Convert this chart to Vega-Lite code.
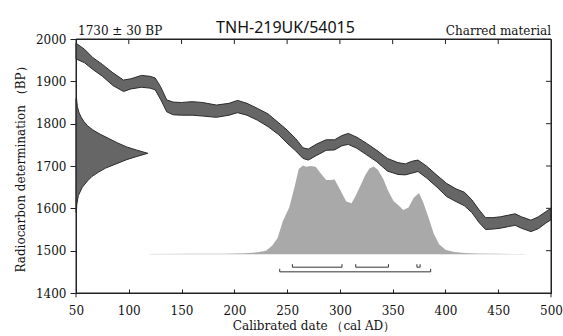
{
  "$schema": "https://vega.github.io/schema/vega-lite/v6.json",
  "autosize": "none",
  "width": 475,
  "height": 254,
  "padding": {"left": 76, "top": 39, "right": 12, "bottom": 43},
  "background": "white",
  "config": {
    "view": {"stroke": "#222222", "strokeWidth": 1},
    "axis": {"grid": false, "domain": true, "ticks": true, "domainColor": "#222222", "tickColor": "#222222", "domainWidth": 1, "tickWidth": 1, "labelColor": "#111111", "titleColor": "#111111", "labelFont": "DejaVu Serif", "titleFont": "DejaVu Serif", "labelFontSize": 12, "titleFontSize": 12, "titleFontWeight": "normal", "labelFlush": false, "labelOverlap": false}
  },
  "title": {"text": "TNH-219UK/54015", "font": "Noto Sans", "fontSize": 16, "fontWeight": "normal", "color": "#111111", "anchor": "middle", "frame": "group", "dx": -28, "offset": -11},
  "datasets": {
    "curve": [
      {"year": 50, "lo": 1953, "hi": 1990},
      {"year": 58, "lo": 1944, "hi": 1976},
      {"year": 66, "lo": 1928, "hi": 1956},
      {"year": 75, "lo": 1912, "hi": 1940},
      {"year": 85, "lo": 1890, "hi": 1920},
      {"year": 95, "lo": 1876, "hi": 1903},
      {"year": 102, "lo": 1882, "hi": 1906},
      {"year": 112, "lo": 1886, "hi": 1914},
      {"year": 120, "lo": 1884, "hi": 1912},
      {"year": 125, "lo": 1880, "hi": 1908},
      {"year": 130, "lo": 1858, "hi": 1888},
      {"year": 136, "lo": 1828, "hi": 1856},
      {"year": 142, "lo": 1821, "hi": 1851},
      {"year": 150, "lo": 1820, "hi": 1850},
      {"year": 160, "lo": 1820, "hi": 1852},
      {"year": 170, "lo": 1818, "hi": 1850},
      {"year": 183, "lo": 1815, "hi": 1844},
      {"year": 195, "lo": 1820, "hi": 1848},
      {"year": 203, "lo": 1826, "hi": 1855},
      {"year": 212, "lo": 1820, "hi": 1848},
      {"year": 222, "lo": 1808, "hi": 1836},
      {"year": 232, "lo": 1793, "hi": 1823},
      {"year": 242, "lo": 1774, "hi": 1802},
      {"year": 250, "lo": 1754, "hi": 1785},
      {"year": 258, "lo": 1736, "hi": 1765},
      {"year": 265, "lo": 1718, "hi": 1743},
      {"year": 270, "lo": 1714, "hi": 1740},
      {"year": 278, "lo": 1725, "hi": 1752},
      {"year": 287, "lo": 1737, "hi": 1762},
      {"year": 295, "lo": 1738, "hi": 1762},
      {"year": 302, "lo": 1748, "hi": 1772},
      {"year": 308, "lo": 1751, "hi": 1777},
      {"year": 316, "lo": 1742, "hi": 1768},
      {"year": 325, "lo": 1727, "hi": 1754},
      {"year": 335, "lo": 1710, "hi": 1737},
      {"year": 345, "lo": 1688, "hi": 1718},
      {"year": 355, "lo": 1680, "hi": 1708},
      {"year": 362, "lo": 1679, "hi": 1705},
      {"year": 368, "lo": 1683, "hi": 1711},
      {"year": 374, "lo": 1687, "hi": 1714},
      {"year": 382, "lo": 1672, "hi": 1700},
      {"year": 392, "lo": 1650, "hi": 1678},
      {"year": 401, "lo": 1628, "hi": 1659},
      {"year": 410, "lo": 1616, "hi": 1646},
      {"year": 418, "lo": 1606, "hi": 1638},
      {"year": 425, "lo": 1590, "hi": 1620},
      {"year": 432, "lo": 1566, "hi": 1596},
      {"year": 438, "lo": 1550, "hi": 1578},
      {"year": 445, "lo": 1551, "hi": 1578},
      {"year": 452, "lo": 1553, "hi": 1580},
      {"year": 460, "lo": 1557, "hi": 1584},
      {"year": 466, "lo": 1560, "hi": 1587},
      {"year": 472, "lo": 1553, "hi": 1580},
      {"year": 481, "lo": 1545, "hi": 1572},
      {"year": 488, "lo": 1552, "hi": 1580},
      {"year": 495, "lo": 1565, "hi": 1592},
      {"year": 500, "lo": 1573, "hi": 1600}
    ],
    "rcdate": [
      {"bp": 1590, "year": 50.3},
      {"bp": 1610, "year": 50.8},
      {"bp": 1630, "year": 52.2},
      {"bp": 1650, "year": 56},
      {"bp": 1665, "year": 61},
      {"bp": 1675, "year": 65},
      {"bp": 1685, "year": 71},
      {"bp": 1695, "year": 78},
      {"bp": 1705, "year": 88},
      {"bp": 1715, "year": 98},
      {"bp": 1722, "year": 107},
      {"bp": 1730, "year": 118},
      {"bp": 1738, "year": 107},
      {"bp": 1745, "year": 98},
      {"bp": 1755, "year": 89},
      {"bp": 1765, "year": 81},
      {"bp": 1775, "year": 73},
      {"bp": 1785, "year": 66},
      {"bp": 1795, "year": 61},
      {"bp": 1805, "year": 57.5},
      {"bp": 1815, "year": 55},
      {"bp": 1825, "year": 53},
      {"bp": 1840, "year": 51.3},
      {"bp": 1860, "year": 50.5}
    ],
    "caldist": [
      {"year": 120, "bp": 1492.3},
      {"year": 160, "bp": 1492.6},
      {"year": 190, "bp": 1493},
      {"year": 210, "bp": 1494},
      {"year": 222, "bp": 1496},
      {"year": 230, "bp": 1500},
      {"year": 236, "bp": 1512},
      {"year": 241, "bp": 1530},
      {"year": 246, "bp": 1570},
      {"year": 252, "bp": 1602},
      {"year": 257, "bp": 1650},
      {"year": 261, "bp": 1693},
      {"year": 265, "bp": 1701},
      {"year": 268, "bp": 1698},
      {"year": 272, "bp": 1700},
      {"year": 277, "bp": 1698},
      {"year": 282, "bp": 1682},
      {"year": 287, "bp": 1667},
      {"year": 291, "bp": 1667},
      {"year": 295, "bp": 1668},
      {"year": 300, "bp": 1645},
      {"year": 306, "bp": 1616},
      {"year": 311, "bp": 1612},
      {"year": 315, "bp": 1630},
      {"year": 319, "bp": 1651},
      {"year": 324, "bp": 1678},
      {"year": 328, "bp": 1694},
      {"year": 332, "bp": 1699},
      {"year": 336, "bp": 1691},
      {"year": 341, "bp": 1670},
      {"year": 346, "bp": 1640},
      {"year": 351, "bp": 1617},
      {"year": 356, "bp": 1606},
      {"year": 360, "bp": 1596},
      {"year": 365, "bp": 1602},
      {"year": 370, "bp": 1625},
      {"year": 375, "bp": 1636},
      {"year": 379, "bp": 1614},
      {"year": 384, "bp": 1578},
      {"year": 389, "bp": 1540},
      {"year": 394, "bp": 1515},
      {"year": 400, "bp": 1502},
      {"year": 408, "bp": 1497},
      {"year": 418, "bp": 1494.5},
      {"year": 430, "bp": 1493.2},
      {"year": 450, "bp": 1492.5},
      {"year": 475, "bp": 1492.2}
    ],
    "ranges": [
      {"year": 255, "year2": 302, "bp": 1461, "cap": 1468},
      {"year": 315, "year2": 346, "bp": 1461, "cap": 1468},
      {"year": 373, "year2": 376, "bp": 1461, "cap": 1468},
      {"year": 243, "year2": 386, "bp": 1450, "cap": 1457}
    ],
    "hsegs": [
      {"xa": 50, "xb": 500, "y": 1400},
      {"xa": 50, "xb": 500, "y": 2000},
      {"xa": 495.3, "xb": 500, "y": 1500},
      {"xa": 495.3, "xb": 500, "y": 1600},
      {"xa": 495.3, "xb": 500, "y": 1700},
      {"xa": 495.3, "xb": 500, "y": 1800},
      {"xa": 495.3, "xb": 500, "y": 1900}
    ],
    "vsegs": [
      {"x": 50, "ya": 1390, "yb": 2000},
      {"x": 500, "ya": 1390, "yb": 2000},
      {"x": 100, "ya": 1988, "yb": 2000},
      {"x": 150, "ya": 1988, "yb": 2000},
      {"x": 200, "ya": 1988, "yb": 2000},
      {"x": 250, "ya": 1988, "yb": 2000},
      {"x": 300, "ya": 1988, "yb": 2000},
      {"x": 350, "ya": 1988, "yb": 2000},
      {"x": 400, "ya": 1988, "yb": 2000},
      {"x": 450, "ya": 1988, "yb": 2000}
    ]
  },
  "layer": [
    {
      "data": {"name": "curve"},
      "mark": {"type": "area", "fill": "#666666", "stroke": "#2b2b2b", "strokeWidth": 1, "orient": "vertical"},
      "encoding": {
        "x": {"field": "year", "type": "quantitative", "scale": {"domain": [50, 500], "nice": false, "zero": false},
          "axis": {"orient": "bottom", "values": [50, 100, 150, 200, 250, 300, 350, 400, 450, 500], "tickSize": -4, "labelPadding": 16, "title": "Calibrated date （cal AD）", "titlePadding": 4}},
        "y": {"field": "lo", "type": "quantitative", "scale": {"domain": [1400, 2000], "nice": false, "zero": false},
          "axis": {"orient": "left", "values": [1400, 1500, 1600, 1700, 1800, 1900, 2000], "format": "d", "tickSize": 6, "labelPadding": 4, "title": "Radiocarbon determination （BP）", "titlePadding": 8}},
        "y2": {"field": "hi"}
      }
    },
    {
      "data": {"name": "caldist"},
      "mark": {"type": "area", "fill": "#a9a9a9", "orient": "vertical"},
      "encoding": {
        "x": {"field": "year", "type": "quantitative"},
        "y": {"field": "bp", "type": "quantitative"},
        "y2": {"datum": 1491.5}
      }
    },
    {
      "data": {"name": "rcdate"},
      "mark": {"type": "area", "fill": "#666666", "stroke": "#2b2b2b", "strokeWidth": 1, "orient": "horizontal"},
      "encoding": {
        "y": {"field": "bp", "type": "quantitative"},
        "x": {"field": "year", "type": "quantitative"},
        "x2": {"datum": 50}
      }
    },
    {
      "data": {"name": "ranges"},
      "mark": {"type": "rule", "color": "#333333", "strokeWidth": 1},
      "encoding": {
        "x": {"field": "year", "type": "quantitative"},
        "x2": {"field": "year2"},
        "y": {"field": "bp", "type": "quantitative"}
      }
    },
    {
      "data": {"name": "ranges"},
      "mark": {"type": "rule", "color": "#333333", "strokeWidth": 1},
      "encoding": {
        "x": {"field": "year", "type": "quantitative"},
        "y": {"field": "bp", "type": "quantitative"},
        "y2": {"field": "cap"}
      }
    },
    {
      "data": {"name": "ranges"},
      "mark": {"type": "rule", "color": "#333333", "strokeWidth": 1},
      "encoding": {
        "x": {"field": "year2", "type": "quantitative"},
        "y": {"field": "bp", "type": "quantitative"},
        "y2": {"field": "cap"}
      }
    },
    {
      "data": {"name": "hsegs"},
      "mark": {"type": "rule", "color": "#222222", "strokeWidth": 1},
      "encoding": {
        "x": {"field": "xa", "type": "quantitative"},
        "x2": {"field": "xb"},
        "y": {"field": "y", "type": "quantitative"}
      }
    },
    {
      "data": {"name": "vsegs"},
      "mark": {"type": "rule", "color": "#222222", "strokeWidth": 1},
      "encoding": {
        "x": {"field": "x", "type": "quantitative"},
        "y": {"field": "ya", "type": "quantitative"},
        "y2": {"field": "yb"}
      }
    },
    {
      "data": {"values": [{"year": 500, "bp": 2000, "label": "Charred material"}]},
      "mark": {"type": "text", "align": "right", "baseline": "alphabetic", "dy": -4, "font": "DejaVu Serif", "fontSize": 12, "color": "#111111"},
      "encoding": {
        "x": {"field": "year", "type": "quantitative"},
        "y": {"field": "bp", "type": "quantitative"},
        "text": {"field": "label"}
      }
    },
    {
      "data": {"values": [{"year": 50, "bp": 2000, "label": "1730 ± 30 BP"}]},
      "mark": {"type": "text", "align": "left", "baseline": "alphabetic", "dy": -4, "dx": 2, "font": "DejaVu Serif", "fontSize": 12, "color": "#111111"},
      "encoding": {
        "x": {"field": "year", "type": "quantitative"},
        "y": {"field": "bp", "type": "quantitative"},
        "text": {"field": "label"}
      }
    }
  ]
}
